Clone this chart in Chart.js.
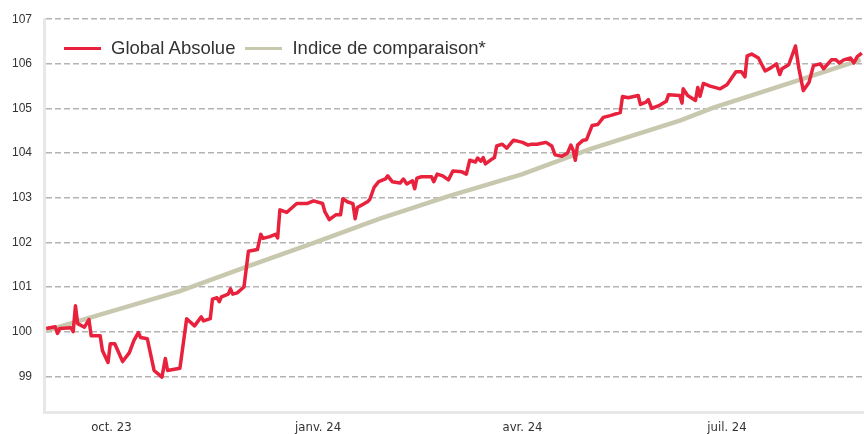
<!DOCTYPE html>
<html>
<head>
<meta charset="utf-8">
<script src="https://cdn.jsdelivr.net/npm/chart.js@4.4.1/dist/chart.umd.min.js"></script>
<style>
  body { margin: 0; background: #fff; }
  #wrap { position: relative; width: 864px; height: 434px; }
  #legend {
    position: absolute; left: 64px; top: 37px;
    display: flex; align-items: center;
    font-family: 'Liberation Sans', Arial, sans-serif; font-size: 18.5px; line-height: 22px; color: #333;
  }
  #legend .item { display: flex; align-items: center; margin-right: 10px; }
  #legend .swatch { width: 37px; height: 3px; margin-right: 10px; }
</style>
</head>
<body>
<div id="wrap">
  <canvas id="perfChart" width="864" height="434"></canvas>
  <div id="legend"></div>
</div>
<script>
// series names
var seriesNames = ['Global Absolue', 'Indice de comparaison*'];
var seriesColors = ['#e8213c', '#c8c8af'];

// x = days since 1 Sept 2023
var redDays = [1, 5, 6, 7, 12, 13, 14, 15, 18, 20, 21, 25, 26, 28.5, 29.5, 31.5, 35, 38, 40, 42, 43, 46, 49, 52.5, 54, 55, 60.5,
  63.5, 67, 70, 71, 74, 75, 77, 78, 79, 82, 83, 84, 86, 89, 91, 95, 96.5, 97.5, 100.5, 103, 104, 105, 108, 112.5, 117, 120,
  124, 125, 127, 130, 132, 133, 135, 137.5, 138.5, 139.5, 144, 145, 147, 149, 152, 153, 155, 158.5, 160, 161.5, 164, 165,
  166, 168, 172.5, 173.5, 175, 177.5, 180, 182, 186, 188, 189.5, 192, 193, 194.5, 195.5, 196.5, 199.5, 200.5, 201.5, 204,
  206, 209, 213, 215.5, 217, 219.5, 221.5, 223.5, 226, 227.5, 230.5, 233, 234.5, 235.5, 236.5, 237.5, 240, 241.5, 244,
  246.5, 249, 252, 256.5, 257.5, 260, 264.5, 265.5, 268, 269, 270.5, 274, 277, 278, 283, 284, 284.5, 286.5, 290, 291, 292,
  293.5, 296.5, 301, 304, 308, 310.5, 312, 313, 315, 318, 321, 323.5, 326, 327.5, 328.5, 331.5, 334.5, 336, 338, 340.5,
  342.5, 345.5, 347, 350.5, 352.5, 354, 356, 359, 360.5, 362, 364];
var redValues = [100.07, 100.11, 99.96, 100.07, 100.09, 100.0, 100.58, 100.18, 100.1, 100.27, 99.91, 99.91, 99.58, 99.31,
  99.73, 99.73, 99.33, 99.53, 99.8, 99.98, 99.87, 99.84, 99.13, 98.98, 99.4, 99.13, 99.18,
  100.29, 100.13, 100.33, 100.24, 100.29, 100.73, 100.76, 100.67, 100.78, 100.84, 100.96, 100.84, 100.87, 101.0, 101.8,
  101.84, 102.18, 102.09, 102.13, 102.18, 102.1, 102.73, 102.67, 102.87, 102.87, 102.93,
  102.87, 102.69, 102.51, 102.62, 102.62, 102.98, 102.91, 102.87, 102.53, 102.78, 102.91, 102.96, 103.24, 103.36, 103.42,
  103.49, 103.36, 103.33, 103.42, 103.31, 103.38, 103.2,
  103.44, 103.47, 103.47, 103.36, 103.53, 103.49, 103.4, 103.6, 103.58, 103.53, 103.84, 103.8, 103.89, 103.82, 103.9,
  103.76, 103.87, 103.9, 104.16, 104.2,
  104.11, 104.29, 104.24, 104.18, 104.2, 104.2, 104.22, 104.24, 104.16, 103.96, 103.93, 104.0, 104.18, 104.07, 103.84,
  104.18, 104.29, 104.3, 104.62,
  104.64, 104.8, 104.84, 104.91, 105.27, 105.24, 105.29, 105.09, 105.14, 105.2, 105.0, 105.07, 105.16, 105.31, 105.29,
  105.12, 105.44, 105.29, 105.18, 105.47, 105.27,
  105.56, 105.5, 105.44, 105.53, 105.82, 105.82, 105.71, 106.18, 106.22, 106.13, 105.84, 105.91, 106.0, 105.76, 105.89,
  105.98, 106.4, 105.9, 105.4, 105.58,
  105.96, 106.0, 105.89, 106.09, 106.09, 106.02, 106.09, 106.13, 106.02, 106.16, 106.24];

var greyDays = [1, 25, 60.5, 91, 119.5, 149.5, 180.5, 213, 243, 283, 298, 335, 363.5];
var greyValues = [100.02, 100.38, 100.91, 101.47, 101.98, 102.53, 103.04, 103.53, 104.09, 104.73, 105.02, 105.62, 106.09];

// tick positions (day index) and labels
var tickDays = [30, 122, 213, 304];
var tickLabels = ['oct. 23', 'janv. 24', 'avr. 24', 'juil. 24'];

function toPoints(xs, ys) {
  return xs.map(function(x, i) { return { x: x, y: ys[i] }; });
}

var ctx = document.getElementById('perfChart');
var chart = new Chart(ctx, {
  type: 'line',
  data: {
    datasets: [
      {
        label: seriesNames[0],
        data: toPoints(redDays, redValues),
        borderColor: seriesColors[0],
        borderWidth: 3.5,
        borderJoinStyle: 'round',
        pointRadius: 0,
        tension: 0
      },
      {
        label: seriesNames[1],
        data: toPoints(greyDays, greyValues),
        borderColor: seriesColors[1],
        borderWidth: 4.5,
        pointRadius: 0,
        tension: 0
      }
    ]
  },
  options: {
    responsive: false,
    animation: false,
    layout: { padding: { top: 14, right: 0, left: 0, bottom: 0 } },
    plugins: { legend: { display: false }, tooltip: { enabled: false } },
    scales: {
      x: {
        type: 'linear',
        min: 0,
        max: 365,
        afterBuildTicks: function(axis) {
          axis.ticks = tickDays.map(function(d) { return { value: d }; });
        },
        afterFit: function(axis) { axis.height = 22; },
        grid: { display: false, drawTicks: false },
        border: { display: true, color: '#e8e8e8', width: 3 },
        ticks: {
          autoSkip: false,
          maxRotation: 0,
          padding: 8,
          color: '#333',
          font: { family: "'Liberation Sans Narrow', 'DejaVu Sans Condensed', sans-serif", size: 13 },
          callback: function(value) {
            var i = tickDays.indexOf(value);
            return i >= 0 ? tickLabels[i] : '';
          }
        }
      },
      y: {
        min: 98.2,
        max: 107,
        afterFit: function(axis) { axis.width = 44; },
        grid: { color: '#b3b3b3', lineWidth: 1.5, drawTicks: false },
        border: { display: true, color: '#e8e8e8', width: 3, dash: [6, 3] },
        ticks: {
          stepSize: 1,
          includeBounds: false,
          padding: 12,
          color: '#333',
          font: { family: "'Liberation Sans', Arial, sans-serif", size: 12 }
        }
      }
    }
  }
});

// html legend built from the datasets
var legendEl = document.getElementById('legend');
chart.data.datasets.forEach(function(ds) {
  var item = document.createElement('div');
  item.className = 'item';
  var sw = document.createElement('span');
  sw.className = 'swatch';
  sw.style.background = ds.borderColor;
  var txt = document.createElement('span');
  txt.textContent = ds.label;
  item.appendChild(sw);
  item.appendChild(txt);
  legendEl.appendChild(item);
});
</script>
</body>
</html>
